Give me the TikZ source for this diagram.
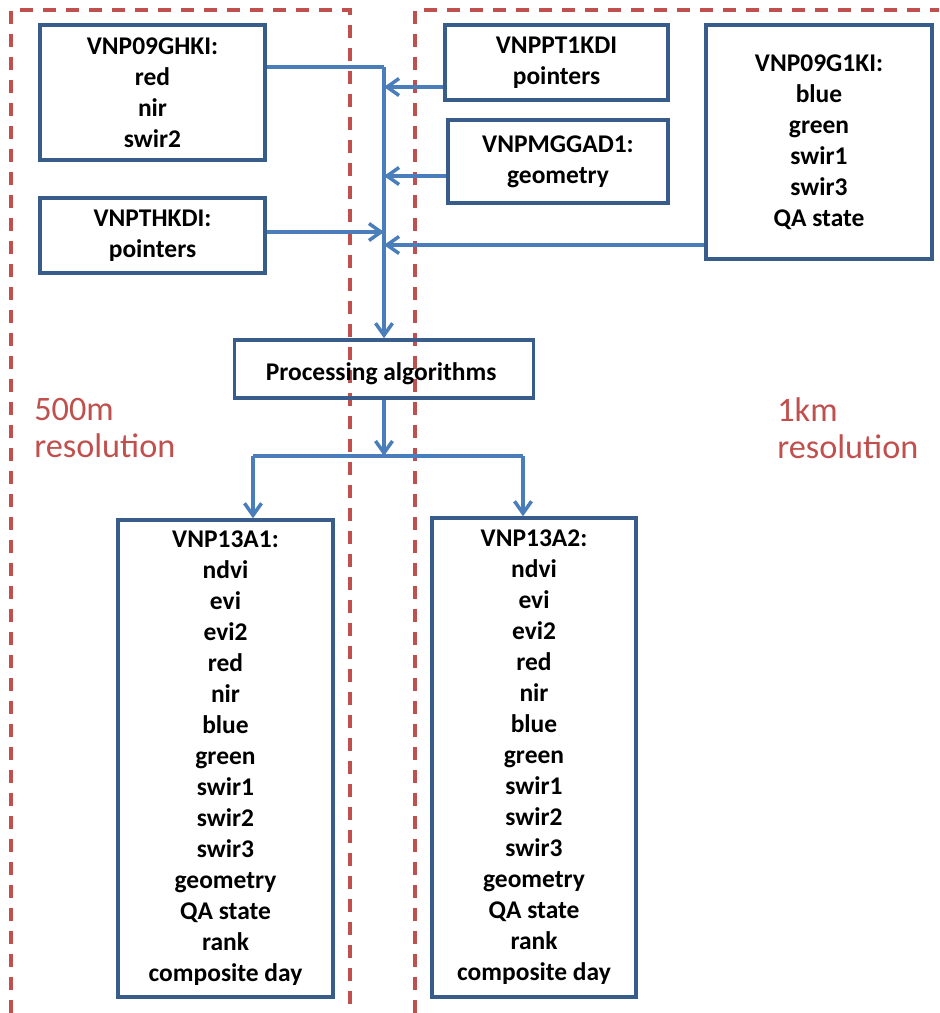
\documentclass[tikz,border=0pt]{standalone}
\usepackage{fontspec}
\setmainfont{Carlito}
\usetikzlibrary{positioning, arrows.meta}
\definecolor{boxblue}{HTML}{385D8A}
\definecolor{linkblue}{HTML}{4A7EBB}
\definecolor{zonered}{HTML}{C0504D}

\begin{document}
\begin{tikzpicture}[x = 0.02cm, y = -0.02cm,
    every node/.style = { align = center, font = \bfseries\fontsize{14.5}{17.65}\selectfont },
    product/.style = { draw = boxblue, line width = 2pt, inner sep = 0pt,
                       execute at begin node = \rule{0pt}{15pt} },
    link/.style = { draw = linkblue, line width = 2pt },
    feed/.style = { link, -{Straight Barb[length = 2.4mm, width = 3.4mm]} },
    zone/.style = { draw = zonered, line width = 2pt, dash pattern = on 0.26cm off 0.2cm },
    zonelabel/.style = { align = left, anchor = west, inner sep = 0pt, text = zonered,
                         font = \fontsize{19.5}{21}\selectfont }]
  \useasboundingbox (0,0) rectangle (939,1013);

  \draw[zone] (11,1013) |- (350,10) -- (350,1013);
  \draw[zone] (415,1013) |- (939,10);
  \node[zonelabel] (lowres) at (34,428) { 500m \\ resolution };
  \node[zonelabel] (highres) at (777,428) { 1km \\ resolution };

  \node[product, minimum width = 4.5cm, minimum height = 2.7cm] (ghki) at (152.5,92.5)
    { VNP09GHKI: \\ red \\ nir \\ swir2 };
  \node[product, minimum width = 4.5cm, minimum height = 1.5cm] (thkdi) at (152.5,235.5)
    { VNPTHKDI: \\ pointers };
  \node[product, minimum width = 4.46cm, minimum height = 1.5cm] (pt1) at (556.5,62.5)
    { VNPPT1KDI \\ pointers };
  \node[product, minimum width = 4.4cm, minimum height = 1.66cm] (mggad) at (558,161.5)
    { VNPMGGAD1: \\ geometry };
  \node[product, minimum width = 4.52cm, minimum height = 4.68cm] (g1ki) at (819,142)
    { VNP09G1KI: \\ blue \\ green \\ swir1 \\ swir3 \\ QA state };
  \node[product, minimum width = 5.98cm, minimum height = 1.16cm] (proc) at (384,369)
    { Processing algorithms };
  \node[product, minimum width = 4.3cm, minimum height = 9.54cm] (a1) at (225.5,758.5)
    { VNP13A1: \\ ndvi \\ evi \\ evi2 \\ red \\ nir \\ blue \\ green \\ swir1 \\ swir2 \\ swir3
      \\ geometry \\ QA state \\ rank \\ composite day };
  \node[product, minimum width = 4.08cm, minimum height = 9.58cm] (a2) at (534,757.5)
    { VNP13A2: \\ ndvi \\ evi \\ evi2 \\ red \\ nir \\ blue \\ green \\ swir1 \\ swir2 \\ swir3
      \\ geometry \\ QA state \\ rank \\ composite day };

  \coordinate (jtop) at (384,67);
  \coordinate (jpt1) at (384,87);
  \coordinate (jmg) at (384,176);
  \coordinate (jth) at (384,232);
  \coordinate (jg1) at (384,245);
  \coordinate (split) at (384,456);
  \coordinate (lsplit) at (253,456);
  \coordinate (rsplit) at (523,456);

  \draw[link] (ghki.east |- jtop) -- (jtop);
  \draw[feed] (jtop) -- (proc.north);
  \draw[feed] (pt1.west |- jpt1) -- (jpt1);
  \draw[feed] (mggad.west |- jmg) -- (jmg);
  \draw[feed] (thkdi.east |- jth) -- (jth);
  \draw[feed] (g1ki.west |- jg1) -- (jg1);
  \draw[feed] (proc.south) -- (split);
  \draw[link] (lsplit) -- (rsplit);
  \draw[feed] (lsplit) -- (lsplit |- a1.north);
  \draw[feed] (rsplit) -- (rsplit |- a2.north);
\end{tikzpicture}
\end{document}
